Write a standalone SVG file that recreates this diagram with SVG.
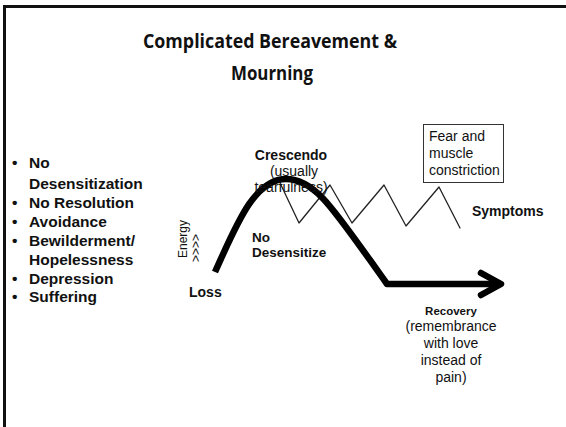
<svg xmlns="http://www.w3.org/2000/svg" width="566" height="427" viewBox="0 0 566 427">
<style>
.t{font-family:"Liberation Sans",Arial,sans-serif;fill:#111}
.b{font-weight:bold}
.title{font-family:"Open Sans","Liberation Sans",sans-serif;font-weight:700;font-size:19px;fill:#111;text-anchor:middle}
.c{text-anchor:middle}
</style>
<rect x="0" y="0" width="566" height="427" fill="#fff"/>
<path d="M4.5 430 V6.5 H570" fill="none" stroke="#111" stroke-width="3"/>
<g id="title">
<text class="title" x="270" y="48" textLength="254" lengthAdjust="spacingAndGlyphs">Complicated Bereavement &amp;</text>
<text class="title" x="272" y="80" textLength="82" lengthAdjust="spacingAndGlyphs">Mourning</text>
</g>
<g id="list" class="t b" font-size="15.5">
<text x="12" y="168">•</text><text x="29" y="168">No</text>
<text x="29" y="189">Desensitization</text>
<text x="12" y="208">•</text><text x="29" y="208">No Resolution</text>
<text x="12" y="227">•</text><text x="29" y="227">Avoidance</text>
<text x="12" y="246">•</text><text x="29" y="246">Bewilderment/</text>
<text x="29" y="265">Hopelessness</text>
<text x="12" y="284">•</text><text x="29" y="284">Depression</text>
<text x="12" y="302">•</text><text x="29" y="302">Suffering</text>
</g>
<g id="connectors" fill="none" stroke-linecap="round" stroke-linejoin="round">
<path id="zigzag" d="M281 185 L299 223 L330 185 L352 223 L384 185 L406 226 L439 187 L460 228" stroke="#222" stroke-width="1.3"/>
<path id="curve" d="M215 272 C236 226 254 179 286 179 C316 179 334 210 387 284 L501 284" stroke="#000" stroke-width="6.5" stroke-linecap="butt"/>
<path id="arrowhead" d="M481 273 L501 284 L481 295" stroke="#000" stroke-width="6.5"/>
</g>
<g id="energy" class="t">
<text font-size="12" transform="translate(187 239) rotate(-90)" class="t c">Energy</text>
<text font-size="12" transform="translate(200 248) rotate(-90)" class="t c">&gt;&gt;&gt;&gt;</text>
</g>
<g id="loss"><text class="t b" font-size="14" x="189" y="297">Loss</text></g>
<g id="crescendo" class="t c">
<text class="b" font-size="14" x="291" y="160">Crescendo</text>
<text font-size="14" x="294" y="176">(usually</text>
<text font-size="14" x="291" y="192">tearfulness)</text>
</g>
<g id="nodesens" class="t b" font-size="13.5">
<text x="252" y="242">No</text>
<text x="252" y="257">Desensitize</text>
</g>
<g id="fear">
<rect x="423.5" y="124.5" width="80" height="58" fill="#fff" stroke="#333" stroke-width="1"/>
<text class="t" font-size="14" x="429" y="141">Fear and</text>
<text class="t" font-size="14" x="429" y="158">muscle</text>
<text class="t" font-size="14" x="429" y="175">constriction</text>
</g>
<g id="symptoms"><text class="t b" font-size="14" x="472" y="216">Symptoms</text></g>
<g id="recovery" class="t c">
<text class="b" font-size="11.5" x="451" y="315">Recovery</text>
<text font-size="14" x="451" y="331">(remembrance</text>
<text font-size="14" x="451" y="348">with love</text>
<text font-size="14" x="451" y="365">instead of</text>
<text font-size="14" x="451" y="382">pain)</text>
</g>
</svg>
